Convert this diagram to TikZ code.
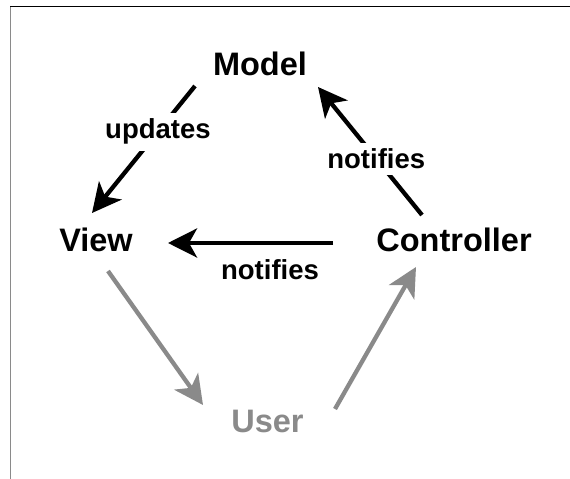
\documentclass[tikz,border=0pt]{standalone}
\usepackage{fontspec}
\setmainfont{Liberation Sans}
\usetikzlibrary{arrows.meta,calc}
\definecolor{usergray}{RGB}{138,138,138}
\tikzset{
  x=1pt,y=1pt,
  big/.style={font=\fontsize{32.5}{36}\selectfont\bfseries, inner sep=0pt, anchor=base},
  lab/.style={font=\fontsize{27.5}{32}\selectfont\bfseries, fill=white, inner sep=6pt},
  arr/.style={line width=4.3pt, -{Stealth[length=29pt,width=29pt,inset=8pt]}},
  blackarr/.style={arr, draw=black},
  grayarr/.style={arr, draw=usergray},
}
\begin{document}
\begin{tikzpicture}
\useasboundingbox (0,0) rectangle (570,479);
\fill[white] (0,0) rectangle (570,479);
\draw[black, line width=1pt] (10,472) -- (570,472);
\draw[usergray, line width=1.3pt] (10.5,472) -- (10.5,0);

\node[big] (Model) at (260,403) {Model};
\node[big] (View) at (96,227) {View};
\node[big] (Controller) at (454,227) {Controller};
\node[big, text=usergray] (User) at (267.5,46) {User};

\draw[blackarr] ($(Model.base)+(-65,-10)$) -- node[lab, pos=0.36] (updates) {updates} ($(View.base)+(-4,39)$);
\draw[blackarr] ($(Controller.base)+(-32,37)$) -- node[lab, pos=0.44] (notifiesA) {notifies} ($(Model.base)+(58,-11)$);
\draw[blackarr] ($(Controller.base)+(-121,9)$) -- ($(View.base)+(72,9)$);
\node[lab, fill=none, inner sep=0pt, anchor=base] (notifiesB) at (270,199) {notifies};
\draw[grayarr] ($(View.base)+(12,-19)$) -- ($(User.base)+(-64.5,28)$);
\draw[grayarr] ($(User.base)+(67.5,24)$) -- ($(Controller.base)+(-38,-15)$);
\end{tikzpicture}
\end{document}
